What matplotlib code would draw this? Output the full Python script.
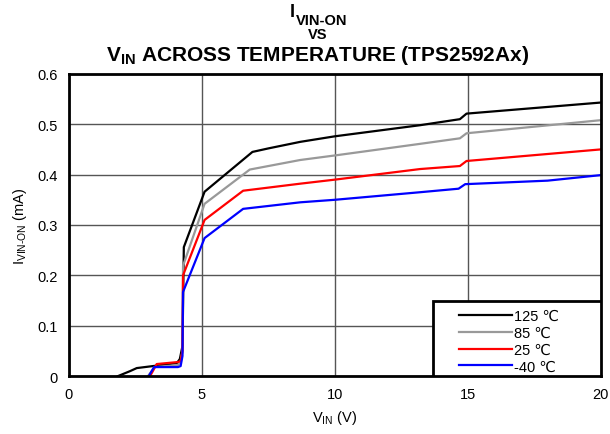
import matplotlib
matplotlib.use("Agg")
import matplotlib.pyplot as plt
from matplotlib.patches import Rectangle

plt.rcParams["font.family"] = ["Liberation Sans", "DejaVu Sans"]
plt.rcParams["mathtext.fontset"] = "custom"
plt.rcParams["mathtext.rm"] = "Liberation Sans"
plt.rcParams["mathtext.bf"] = "Liberation Sans:bold"

# IVIN-ON vs VIN, one curve per temperature (mA)
vin_125 = [1.84, 2.3, 2.55, 3.16, 4.06, 4.17, 4.27, 4.32, 5.1, 6.9, 7.5, 8.7, 10.0, 13.2, 14.7, 14.95, 20.0]
i_125 = [0.0, 0.010, 0.016, 0.020, 0.026, 0.034, 0.060, 0.256, 0.366, 0.445, 0.452, 0.465, 0.476, 0.498, 0.510, 0.521, 0.543]

vin_85 = [2.97, 3.23, 4.1, 4.2, 4.27, 4.29, 5.1, 6.8, 8.7, 10.0, 13.2, 14.7, 14.95, 20.0]
i_85 = [0.0, 0.018, 0.022, 0.028, 0.050, 0.219, 0.342, 0.410, 0.429, 0.438, 0.461, 0.472, 0.482, 0.508]

vin_25 = [3.05, 3.3, 4.1, 4.2, 4.27, 4.29, 5.1, 6.55, 8.7, 10.0, 13.2, 14.7, 14.95, 20.0]
i_25 = [0.0, 0.024, 0.028, 0.030, 0.050, 0.200, 0.310, 0.368, 0.382, 0.390, 0.411, 0.417, 0.427, 0.450]

vin_m40 = [3.0, 3.2, 4.1, 4.2, 4.27, 4.29, 5.1, 6.55, 8.7, 10.0, 13.2, 14.65, 14.9, 18.0, 20.0]
i_m40 = [0.0, 0.018, 0.018, 0.020, 0.040, 0.167, 0.274, 0.332, 0.345, 0.350, 0.365, 0.372, 0.381, 0.388, 0.399]

labels = ["125 \u2103", "85 \u2103", "25 \u2103", "-40 \u2103"]
colors = ["black", "#999999", "#ff0000", "#0000ff"]

x_ticks = [0, 5, 10, 15, 20]
y_ticks = [0, 0.1, 0.2, 0.3, 0.4, 0.5, 0.6]
y_tick_labels = ["0", "0.1", "0.2", "0.3", "0.4", "0.5", "0.6"]

fig = plt.figure(figsize=(6.1, 4.35), dpi=100)
ax = fig.add_axes([0.113, 0.133, 0.872, 0.695])

series = [(vin_125, i_125), (vin_85, i_85), (vin_25, i_25), (vin_m40, i_m40)]
handles = []
for (xs, ys), lab, col in zip(series, labels, colors):
    h, = ax.plot(xs, ys, color=col, lw=1.6, label=lab, zorder=3)
    handles.append(h)

ax.set_xlim(0, 20)
ax.set_ylim(0, 0.6)
ax.set_xticks(x_ticks)
ax.set_yticks(y_ticks)
ax.set_yticklabels(y_tick_labels)
ax.tick_params(length=0, labelsize=10.5, pad=8)
ax.grid(True, color="#555555", lw=1.0, zorder=1)
for sp in ax.spines.values():
    sp.set_linewidth(2.0)
    sp.set_zorder(4)

ax.set_xlabel(r"$\mathrm{V_{IN}}$ (V)", fontsize=10.5, labelpad=5)
ax.set_ylabel(r"$\mathrm{I_{VIN\text{-}ON}}$ (mA)", fontsize=10.5, labelpad=6)

# title: I with a large subscript, then "VS", then the main line
fig.text(0.4754, 0.961, "I", ha="left", va="baseline", fontsize=13, fontweight="bold")
fig.text(0.4852, 0.9435, "VIN-ON", ha="left", va="baseline", fontsize=10.5, fontweight="bold")
fig.text(0.521, 0.9103, "VS", ha="center", va="baseline", fontsize=10.5, fontweight="bold")
fig.text(0.521, 0.860, r"$\mathbf{V_{IN}}$ ACROSS TEMPERATURE (TPS2592Ax)",
         ha="center", va="baseline", fontsize=15, fontweight="bold")

# legend box in the lower right corner
ax.add_patch(Rectangle((0.684, 0.0), 0.316, 0.25, transform=ax.transAxes,
                       facecolor="white", edgecolor="black", lw=2.0, zorder=5))
leg = ax.legend(handles=handles, loc="lower left", bbox_to_anchor=(0.712, -0.03),
                frameon=False, fontsize=10.5, handlelength=3.6, handletextpad=0.15,
                labelspacing=0.2, borderpad=0.3)
leg.set_zorder(6)

fig.savefig("out.png", dpi=100)
